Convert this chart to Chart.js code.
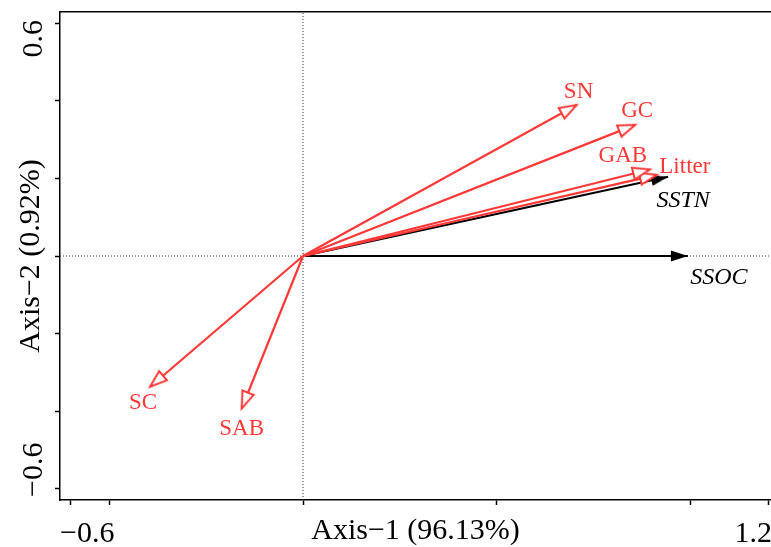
<!DOCTYPE html>
<html>
<head>
<meta charset="utf-8">
<script src="https://cdn.jsdelivr.net/npm/chart.js@4/dist/chart.umd.min.js"></script>
<style>
html,body{margin:0;padding:0;background:#fff;overflow:hidden}
canvas{display:block}
</style>
</head>
<body>
<canvas id="c" width="771" height="547"></canvas>
<script>
// ---- data ----
const responseNames = ['SN', 'GC', 'GAB', 'Litter', 'SC', 'SAB'];
const responseAxis1 = [0.705, 0.856, 0.894, 0.912, -0.394, -0.158];
const responseAxis2 = [0.389, 0.338, 0.223, 0.209, -0.337, -0.393];

const explanatoryNames = ['SSTN', 'SSOC'];
const explanatoryAxis1 = [0.941, 0.992];
const explanatoryAxis2 = [0.204, 0.000];

const xTickValues = [-0.6, -0.5, 0, 0.5, 1.0, 1.2];
const yTickValues = [-0.6, -0.4, -0.2, 0, 0.2, 0.4, 0.6];
const xLabeledTicks = ['−0.6', '1.2'];
const yLabeledTicks = ['−0.6', '0.6'];
const xAxisTitle = 'Axis−1 (96.13%)';
const yAxisTitle = 'Axis−2 (0.92%)';
const xRange = [-0.6263, 1.2062];
const yRange = [-0.6289, 0.6289];

// ---- styling ----
const RED = '#FF3838';
const SERIF = '"Liberation Serif", "Times New Roman", serif';
const labelOffsets = {
  SN: [2, -13], GC: [2, -14], GAB: [-27, -14], Litter: [28, -8],
  SC: [-7, 16], SAB: [0, 20], SSTN: [15, 24], SSOC: [31, 22]
};

Chart.defaults.font.family = SERIF;
Chart.defaults.color = '#000';

function makeHead(fill, stroke, len, half, lw) {
  const s = 2 * len + 10;
  const cv = document.createElement('canvas');
  cv.width = s; cv.height = s;
  const g = cv.getContext('2d');
  const c = s / 2;
  g.beginPath();
  g.moveTo(c, c);
  g.lineTo(c - half, c + len);
  g.lineTo(c + half, c + len);
  g.closePath();
  g.fillStyle = fill;
  g.fill();
  if (stroke) {
    g.lineWidth = lw;
    g.strokeStyle = stroke;
    g.lineJoin = 'miter';
    g.stroke();
  }
  return cv;
}
const redHead = makeHead('#ffffff', RED, 17, 6, 2);
const blackHead = makeHead('#000000', null, 17, 5.5, 0);

function headRotation(ctx) {
  if (ctx.type !== 'data') return 0;
  const ch = ctx.chart, xs = ch.scales.x, ys = ch.scales.y;
  const d = ctx.dataset.data;
  const dx = xs.getPixelForValue(d[1].x) - xs.getPixelForValue(d[0].x);
  const dy = ys.getPixelForValue(d[1].y) - ys.getPixelForValue(d[0].y);
  return Math.atan2(dx, -dy) * 180 / Math.PI;
}

const datasets = [];
// zero reference lines
datasets.push({
  label: 'zeroX', data: [{x: 0, y: yRange[0]}, {x: 0, y: yRange[1]}],
  showLine: true, borderColor: '#333', borderWidth: 1, borderDash: [1, 2],
  pointRadius: 0, order: 10
});
datasets.push({
  label: 'zeroY', data: [{x: xRange[0], y: 0}, {x: xRange[1], y: 0}],
  showLine: true, borderColor: '#333', borderWidth: 1, borderDash: [1, 2],
  pointRadius: 0, order: 10
});
explanatoryNames.forEach((n, i) => datasets.push({
  label: n, data: [{x: 0, y: 0}, {x: explanatoryAxis1[i], y: explanatoryAxis2[i]}],
  showLine: true, borderColor: '#000', borderWidth: 2,
  pointRadius: c => c.dataIndex === 1 ? 1 : 0,
  pointStyle: blackHead, pointRotation: headRotation, order: 2
}));
responseNames.forEach((n, i) => datasets.push({
  label: n, data: [{x: 0, y: 0}, {x: responseAxis1[i], y: responseAxis2[i]}],
  showLine: true, borderColor: RED, borderWidth: 2.2,
  pointRadius: c => c.dataIndex === 1 ? 1 : 0,
  pointStyle: redHead, pointRotation: headRotation, order: 1
}));

const textPlugin = {
  id: 'biplotText',
  afterDatasetsDraw(chart) {
    const {ctx, scales: {x, y}} = chart;
    ctx.save();
    ctx.textAlign = 'center';
    ctx.textBaseline = 'middle';
    ctx.fillStyle = RED;
    ctx.font = '23px ' + SERIF;
    responseNames.forEach((n, i) => {
      const o = labelOffsets[n];
      ctx.fillText(n, x.getPixelForValue(responseAxis1[i]) + o[0], y.getPixelForValue(responseAxis2[i]) + o[1]);
    });
    ctx.fillStyle = '#000';
    ctx.font = 'italic 24px ' + SERIF;
    explanatoryNames.forEach((n, i) => {
      const o = labelOffsets[n];
      ctx.fillText(n, x.getPixelForValue(explanatoryAxis1[i]) + o[0], y.getPixelForValue(explanatoryAxis2[i]) + o[1]);
    });
    ctx.restore();
  },
  afterDraw(chart) {
    const {ctx, chartArea} = chart;
    ctx.save();
    ctx.fillStyle = '#000';
    ctx.font = '30px ' + SERIF;
    ctx.textBaseline = 'alphabetic';
    // x axis end labels
    ctx.textAlign = 'left';
    ctx.fillText(xLabeledTicks[0], chartArea.left, chartArea.bottom + 42);
    ctx.textAlign = 'right';
    ctx.fillText(xLabeledTicks[1], chartArea.right + 1, chartArea.bottom + 42);
    // y axis end labels (rotated)
    ctx.save();
    ctx.translate(chartArea.left - 18, chartArea.top + 8);
    ctx.rotate(-Math.PI / 2);
    ctx.textAlign = 'right';
    ctx.fillText(yLabeledTicks[1], 0, 0);
    ctx.restore();
    ctx.save();
    ctx.translate(chartArea.left - 18, chartArea.bottom - 3);
    ctx.rotate(-Math.PI / 2);
    ctx.textAlign = 'left';
    ctx.fillText(yLabeledTicks[0], 0, 0);
    ctx.restore();
    ctx.restore();
  }
};

const axisGrid = {display: true, drawOnChartArea: false, drawTicks: true, tickLength: 5, tickColor: '#000', tickWidth: 1.5};
const axisBorder = {display: true, color: '#000', width: 1.5};

new Chart(document.getElementById('c'), {
  type: 'scatter',
  data: {datasets},
  options: {
    responsive: false,
    animation: false,
    devicePixelRatio: 1,
    events: [],
    layout: {autoPadding: false, padding: {top: 12, right: 0, bottom: 0, left: 0}},
    plugins: {legend: {display: false}, tooltip: {enabled: false}},
    scales: {
      x: {
        type: 'linear', position: 'bottom', min: xRange[0], max: xRange[1],
        afterBuildTicks: s => { s.ticks = xTickValues.map(v => ({value: v})); },
        ticks: {display: false},
        grid: axisGrid, border: axisBorder,
        title: {display: true, text: xAxisTitle, color: '#000',
          font: {family: SERIF, size: 30, lineHeight: 1}, padding: {top: 11, bottom: 1}}
      },
      x2: {
        type: 'linear', axis: 'x', position: 'top', min: xRange[0], max: xRange[1],
        ticks: {display: false}, grid: {display: false, drawTicks: false, tickLength: 0}, border: axisBorder
      },
      y: {
        type: 'linear', position: 'left', min: yRange[0], max: yRange[1],
        afterBuildTicks: s => { s.ticks = yTickValues.map(v => ({value: v})); },
        ticks: {display: false},
        grid: axisGrid, border: axisBorder,
        title: {display: true, text: yAxisTitle, color: '#000',
          font: {family: SERIF, size: 30, lineHeight: 1}, padding: {top: 16, bottom: 9}}
      }
    }
  },
  plugins: [textPlugin]
});
</script>
</body>
</html>
